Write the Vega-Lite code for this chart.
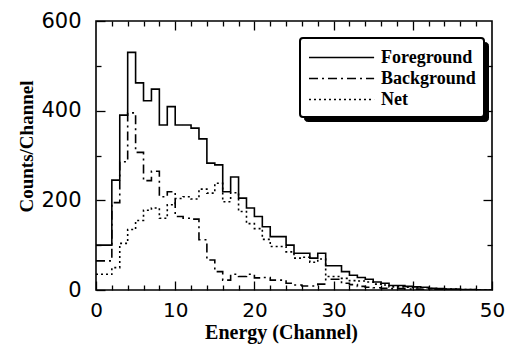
{
  "$schema": "https://vega.github.io/schema/vega-lite/v6.json",
  "width": 396,
  "height": 269,
  "autosize": "none",
  "padding": {"left": 96, "top": 21, "right": 16, "bottom": 54},
  "background": "white",
  "config": {
    "view": {"stroke": "black", "strokeWidth": 1.6},
    "axis": {"domain": false, "grid": false, "tickColor": "black", "tickWidth": 1.3, "labelColor": "black", "titleColor": "black"}
  },
  "data": {
    "values": [
      {"ch": 0, "fg": 100, "bg": 65, "net": 35},
      {"ch": 1, "fg": 100, "bg": 65, "net": 35},
      {"ch": 2, "fg": 245, "bg": 195, "net": 50},
      {"ch": 3, "fg": 390, "bg": 286, "net": 104},
      {"ch": 4, "fg": 530, "bg": 395, "net": 135},
      {"ch": 5, "fg": 462, "bg": 307, "net": 155},
      {"ch": 6, "fg": 422, "bg": 244, "net": 178},
      {"ch": 7, "fg": 448, "bg": 265, "net": 183},
      {"ch": 8, "fg": 368, "bg": 208, "net": 160},
      {"ch": 9, "fg": 409, "bg": 219, "net": 190},
      {"ch": 10, "fg": 368, "bg": 164, "net": 204},
      {"ch": 11, "fg": 368, "bg": 160, "net": 208},
      {"ch": 12, "fg": 361, "bg": 158, "net": 203},
      {"ch": 13, "fg": 337, "bg": 112, "net": 225},
      {"ch": 14, "fg": 283, "bg": 67, "net": 216},
      {"ch": 15, "fg": 279, "bg": 41, "net": 238},
      {"ch": 16, "fg": 219, "bg": 22, "net": 197},
      {"ch": 17, "fg": 252, "bg": 35, "net": 217},
      {"ch": 18, "fg": 205, "bg": 30, "net": 175},
      {"ch": 19, "fg": 183, "bg": 35, "net": 148},
      {"ch": 20, "fg": 164, "bg": 27, "net": 137},
      {"ch": 21, "fg": 141, "bg": 28, "net": 113},
      {"ch": 22, "fg": 119, "bg": 22, "net": 97},
      {"ch": 23, "fg": 119, "bg": 22, "net": 97},
      {"ch": 24, "fg": 100, "bg": 15, "net": 85},
      {"ch": 25, "fg": 82, "bg": 11, "net": 71},
      {"ch": 26, "fg": 82, "bg": 9, "net": 73},
      {"ch": 27, "fg": 71, "bg": 9, "net": 62},
      {"ch": 28, "fg": 82, "bg": 13, "net": 69},
      {"ch": 29, "fg": 54, "bg": 24, "net": 30},
      {"ch": 30, "fg": 54, "bg": 24, "net": 30},
      {"ch": 31, "fg": 41, "bg": 15, "net": 26},
      {"ch": 32, "fg": 33, "bg": 12, "net": 21},
      {"ch": 33, "fg": 28, "bg": 8, "net": 20},
      {"ch": 34, "fg": 24, "bg": 6, "net": 18},
      {"ch": 35, "fg": 18, "bg": 5, "net": 13},
      {"ch": 36, "fg": 15, "bg": 4, "net": 11},
      {"ch": 37, "fg": 10, "bg": 3, "net": 7},
      {"ch": 38, "fg": 10, "bg": 3, "net": 7},
      {"ch": 39, "fg": 8, "bg": 2, "net": 6},
      {"ch": 40, "fg": 7, "bg": 2, "net": 5},
      {"ch": 41, "fg": 6, "bg": 1, "net": 5},
      {"ch": 42, "fg": 4, "bg": 1, "net": 3},
      {"ch": 43, "fg": 3, "bg": 1, "net": 2},
      {"ch": 44, "fg": 2, "bg": 0, "net": 2},
      {"ch": 45, "fg": 2, "bg": 0, "net": 2},
      {"ch": 46, "fg": 1, "bg": 0, "net": 1},
      {"ch": 47, "fg": 1, "bg": 0, "net": 1},
      {"ch": 48, "fg": 0, "bg": 0, "net": 0},
      {"ch": 49, "fg": 0, "bg": 0, "net": 0},
      {"ch": 50, "fg": 0, "bg": 0, "net": 0}
    ]
  },
  "transform": [
    {"fold": ["fg", "bg", "net"], "as": ["key", "counts"]},
    {"lookup": "key", "from": {"data": {"values": [
      {"key": "fg", "series": "Foreground", "shade": "Foreground "},
      {"key": "bg", "series": "Background", "shade": "Background "},
      {"key": "net", "series": "Net", "shade": "Net "}
    ]}, "key": "key", "fields": ["series", "shade"]}}
  ],
  "layer": [
    {
      "mark": {"type": "point", "opacity": 0},
      "encoding": {
        "x": {"field": "ch", "type": "quantitative", "axis": null},
        "y": {"field": "counts", "type": "quantitative", "axis": null},
        "color": {"field": "shade", "type": "nominal",
          "scale": {"domain": ["Foreground ", "Background ", "Net "], "range": ["black", "black", "black"]},
          "legend": {"orient": "none", "legendX": 208, "legendY": 21, "title": null, "zindex": 0,
            "symbolType": "M-1,0H14.9", "symbolSize": 441, "symbolOpacity": 0,
            "labelExpr": "''", "labelFontSize": 18, "labelOffset": 0, "rowPadding": 0, "padding": 8,
            "strokeColor": "black", "fillColor": "black", "cornerRadius": 3}}
      }
    },
    {
      "mark": {"type": "line", "interpolate": "step-after", "color": "black", "strokeWidth": 1.6, "clip": true},
      "encoding": {
        "x": {"field": "ch", "type": "quantitative", "scale": {"domain": [0, 50], "nice": false},
          "axis": {"orient": "bottom", "values": [0, 10, 20, 30, 40, 50], "tickSize": -9, "labelPadding": 19,
            "labelFont": "DejaVu Sans", "labelFontSize": 20, "labelFlush": false,
            "title": "Energy (Channel)", "titleFont": "Liberation Serif", "titleFontWeight": "bold", "titleFontSize": 20, "titleColor": "black",
            "titleX": 185, "titleY": 48, "titleBaseline": "alphabetic"}},
        "y": {"field": "counts", "type": "quantitative", "scale": {"domain": [0, 600], "nice": false},
          "axis": {"orient": "left", "values": [0, 200, 400, 600], "tickSize": -9, "labelPadding": 24,
            "labelFont": "DejaVu Sans", "labelFontSize": 21, "labelFlush": false,
            "title": "Counts/Channel", "titleFont": "Liberation Serif", "titleFontWeight": "bold", "titleFontSize": 19, "titleColor": "black",
            "titleX": -64, "titleY": 125, "titleBaseline": "alphabetic", "titleAngle": -90, "titleAlign": "center"}},
        "strokeDash": {"field": "series", "type": "nominal",
          "scale": {"domain": ["Foreground", "Background", "Net"], "range": [[1, 0], [9, 4, 2, 4], [2, 3]]},
          "legend": {"orient": "none", "legendX": 204, "legendY": 17, "title": null, "zindex": 2,
            "symbolType": "M-1,0H5.2", "symbolSize": 441, "symbolStrokeWidth": 1.5, "symbolStrokeColor": "black",
            "labelFont": "Liberation Serif", "labelFontWeight": "bold", "labelFontSize": 18, "labelColor": "black",
            "labelOffset": 50, "rowPadding": 0, "padding": 8,
            "strokeColor": "black", "fillColor": "white", "cornerRadius": 3,
            "encode": {"legend": {"update": {"strokeWidth": {"value": 2}}}}}}
      }
    },
    {
      "mark": {"type": "line", "opacity": 0},
      "encoding": {
        "x": {"field": "ch", "type": "quantitative", "axis": {"orient": "bottom", "values": [2,4,6,8,12,14,16,18,22,24,26,28,32,34,36,38,42,44,46,48], "tickSize": -5, "labels": false, "title": null}},
        "y": {"field": "counts", "type": "quantitative", "axis": {"orient": "left", "values": [100, 300, 500], "tickSize": -5, "labels": false, "title": null}},
        "detail": {"field": "key"}
      }
    },
    {
      "mark": {"type": "line", "opacity": 0},
      "encoding": {
        "x": {"field": "ch", "type": "quantitative", "axis": {"orient": "top", "values": [10, 20, 30, 40], "tickSize": -9, "labels": false, "title": null}},
        "y": {"field": "counts", "type": "quantitative", "axis": {"orient": "right", "values": [200, 400], "tickSize": -9, "labels": false, "title": null}},
        "detail": {"field": "key"}
      }
    },
    {
      "mark": {"type": "line", "opacity": 0},
      "encoding": {
        "x": {"field": "ch", "type": "quantitative", "axis": {"orient": "top", "values": [2,4,6,8,12,14,16,18,22,24,26,28,32,34,36,38,42,44,46,48], "tickSize": -5, "labels": false, "title": null}},
        "y": {"field": "counts", "type": "quantitative", "axis": {"orient": "right", "values": [100, 300, 500], "tickSize": -5, "labels": false, "title": null}},
        "detail": {"field": "key"}
      }
    }
  ],
  "resolve": {"axis": {"x": "independent", "y": "independent"}}
}
